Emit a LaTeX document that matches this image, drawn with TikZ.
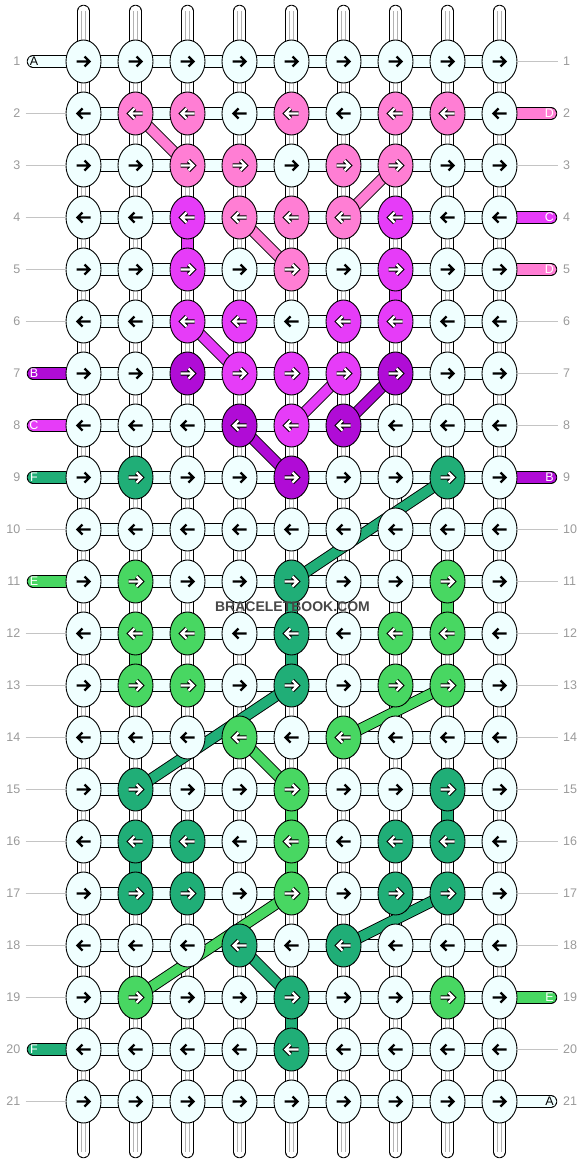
\documentclass[tikz,border=0pt]{standalone}
\usepackage{fontspec}
\setmainfont{Liberation Sans}
\usepackage{xstring}
\usepackage{tikz}
\usetikzlibrary{shapes.geometric}
\usetikzlibrary{backgrounds}

\definecolor{thrA}{HTML}{F0FFFF}
\definecolor{thrB}{HTML}{B00CD6}
\definecolor{thrC}{HTML}{E63CF8}
\definecolor{thrD}{HTML}{FF7ED4}
\definecolor{thrE}{HTML}{48D762}
\definecolor{thrF}{HTML}{20AE77}
\definecolor{labgray}{HTML}{9A9A9A}
\definecolor{guidegray}{HTML}{C4C4C4}

\tikzset{
  knot/.style={draw, ellipse, minimum width=35pt, minimum height=43pt, inner sep=0pt, line width=0.9pt},
  barout/.style={line width=12.4pt, draw=black},
  barin/.style={line width=10.8pt},
  strandmid/.style={draw=gray!60, line width=0.6pt, double=white, double distance=3pt},
  threadout/.style={line width=11.6pt, draw=black},
  thread/.style={line width=9.8pt},
  rowlab/.style={text=labgray, inner sep=1pt, font=\fontsize{12.5}{15}\selectfont},
  pilllab/.style={inner sep=0pt, font=\fontsize{12.5}{14}\selectfont},
  guide/.style={draw=guidegray, line width=1pt},
  arrowdark/.pic={
    \draw[line width=2.4pt, line join=miter] (-7,0) -- (5.5,0) (1,-5) -- (6,0) -- (1,5);
  },
  arrowlight/.pic={
    \draw[line width=4.4pt, line join=miter] (-7,0) -- (5.5,0) (1,-5) -- (6,0) -- (1,5);
    \draw[white, line width=2.2pt, line join=miter] (-7,0) -- (5.5,0) (1,-5) -- (6,0) -- (1,5);
  }
}

\begin{document}
\begin{tikzpicture}[x=1pt, y=-1pt]
\useasboundingbox (0,0) rectangle (584,1164);

% knots, one colour string per row
\foreach \ro/\pat in {1/AAAAAAAAA, 2/ADDADADDA, 3/AADDADDAA, 4/AACDDDCAA, 5/AACADACAA,
    6/AACCACCAA, 7/AABCCCBAA, 8/AAABCBAAA, 9/AFAABAAFA, 10/AAAAAAAAA, 11/AEAAFAAEA,
    12/AEEAFAEEA, 13/AEEAFAEEA, 14/AAAEAEAAA, 15/AFAAEAAFA, 16/AFFAEAFFA, 17/AFFAEAFFA,
    18/AAAFAFAAA, 19/AEAAFAAEA, 20/AAAAFAAAA, 21/AAAAAAAAA} {
  \foreach \co in {1,...,9} {
    \StrChar{\pat}{\co}[\ki]
    \node[knot, fill=thr\ki] (k\ro-\co) at ({83.5+52*(\co-1)},{61.5+52*(\ro-1)}) {};
    \ifodd\ro\relax \def\dir{1}\else \def\dir{-1}\fi
    \if A\ki
      \pic[xscale=\dir] at (k\ro-\co) {arrowdark};
    \else
      \pic[xscale=\dir] at (k\ro-\co) {arrowlight};
    \fi
  }
}

% row numbers
\foreach \ro in {1,...,21} {
  \node[rowlab, anchor=east] (ll\ro) at (21.5,{61.5+52*(\ro-1)}) {\ro};
  \node[rowlab, anchor=west] (rl\ro) at (562,{61.5+52*(\ro-1)}) {\ro};
}

% thread ends at the sides
\foreach \ro/\ki in {1/A, 7/B, 8/C, 9/F, 11/E, 20/F} {
  \coordinate (lin\ro) at (33,{61.5+52*(\ro-1)});
  \if A\ki \def\lc{black}\else \def\lc{white}\fi
  \node[pilllab, text=\lc] (lt\ro) at (34,{61.5+52*(\ro-1)}) {\ki};
}
\foreach \ro/\ki in {2/D, 4/C, 5/D, 9/B, 19/E, 21/A} {
  \coordinate (rin\ro) at (551,{61.5+52*(\ro-1)});
  \if A\ki \def\lc{black}\else \def\lc{white}\fi
  \node[pilllab, text=\lc] (rt\ro) at (549.5,{61.5+52*(\ro-1)}) {\ki};
}

\foreach \ro in {2,3,4,5,6,10,12,13,14,15,16,17,18,19,21}
  \draw[guide] ([xshift=4pt]ll\ro.east) -- (k\ro-1.west);
\foreach \ro in {1,3,6,7,8,10,11,12,13,14,15,16,17,18,20}
  \draw[guide] (k\ro-9.east) -- ([xshift=-4pt]rl\ro.west);

\begin{scope}[on background layer]
  % warp strands
  \foreach \co in {1,...,9} {
    \coordinate (top\co) at ({83.5+52*(\co-1)},11);
    \coordinate (bot\co) at ({83.5+52*(\co-1)},1152);
    \draw[barout, line cap=round] (top\co) -- (k1-\co.center);
    \draw[barin, draw=white, line cap=round] (top\co) -- (k1-\co.center);
    \draw[strandmid] (top\co) -- (k1-\co.center);
    \draw[barout, line cap=round] (k21-\co.center) -- (bot\co);
    \draw[barin, draw=white, line cap=round] (k21-\co.center) -- (bot\co);
    \draw[strandmid] (k21-\co.center) -- (bot\co);
    \foreach \ro in {1,...,20} {
      \pgfmathtruncatemacro\nx{\ro+1}
      \draw[barout] (k\ro-\co.center) -- (k\nx-\co.center);
      \draw[barin, draw=white] (k\ro-\co.center) -- (k\nx-\co.center);
      \draw[strandmid] (k\ro-\co.center) -- (k\nx-\co.center);
    }
  }
  % colour carried straight down
  \foreach \ro/\co/\ki in {4/3/C, 5/7/C, 11/5/F, 12/5/F, 11/8/E, 12/2/E,
      15/5/E, 16/5/E, 15/8/F, 16/2/F, 19/5/F} {
    \pgfmathtruncatemacro\nx{\ro+1}
    \draw[barout] (k\ro-\co.center) -- (k\nx-\co.center);
    \draw[barin, draw=thr\ki] (k\ro-\co.center) -- (k\nx-\co.center);
  }
  % working thread along each row
  \foreach \ro in {1,...,21} {
    \foreach \co in {1,...,8} {
      \pgfmathtruncatemacro\nx{\co+1}
      \draw[barout] (k\ro-\co.center) -- (k\ro-\nx.center);
      \draw[barin, draw=thrA] (k\ro-\co.center) -- (k\ro-\nx.center);
    }
  }
  % side threads
  \foreach \ro/\ki in {1/A, 7/B, 8/C, 9/F, 11/E, 20/F} {
    \draw[barout, line cap=round] (lin\ro) -- (k\ro-1.center);
    \draw[barin, line cap=round, draw=thr\ki] (lin\ro) -- (k\ro-1.center);
  }
  \foreach \ro/\ki in {2/D, 4/C, 5/D, 9/B, 19/E, 21/A} {
    \draw[barout, line cap=round] (k\ro-9.center) -- (rin\ro);
    \draw[barin, line cap=round, draw=thr\ki] (k\ro-9.center) -- (rin\ro);
  }
  % colour threads going across behind
  \foreach \ca/\ra/\cb/\rb/\ki in {2/2/3/3/D, 7/3/6/4/D, 4/4/5/5/D, 3/6/4/7/C, 6/7/5/8/C,
      7/7/6/8/B, 4/8/5/9/B, 8/9/5/11/F, 5/13/2/15/F, 8/17/6/18/F, 4/18/5/19/F,
      8/13/6/14/E, 4/14/5/15/E, 5/17/2/19/E} {
    \draw[threadout] (k\ra-\ca.center) -- (k\rb-\cb.center);
    \draw[thread, draw=thr\ki] (k\ra-\ca.center) -- (k\rb-\cb.center);
  }
\end{scope}

\node[font=\bfseries\fontsize{14}{16}\selectfont, text=black!72] (mark) at (292.5,607) {BRACELETBOOK.COM};
\end{tikzpicture}
\end{document}
